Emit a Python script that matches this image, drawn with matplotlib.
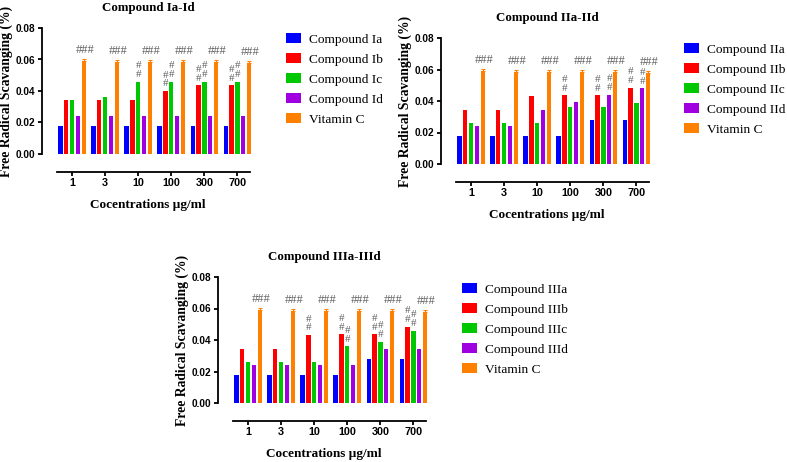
import numpy as np
import matplotlib
matplotlib.use('Agg')
import matplotlib.pyplot as plt
from matplotlib.patches import Patch

# concentrations (ug/ml) and series values
conc = ['1', '3', '10', '100', '300', '700']

ia = [0.018, 0.018, 0.018, 0.018, 0.018, 0.0175]
ib = [0.0345, 0.034, 0.034, 0.040, 0.0435, 0.0435]
ic = [0.0345, 0.036, 0.046, 0.046, 0.046, 0.046]
id_ = [0.024, 0.024, 0.024, 0.024, 0.024, 0.024]

iia = [0.018, 0.018, 0.018, 0.018, 0.028, 0.028]
iib = [0.0345, 0.034, 0.043, 0.0435, 0.0435, 0.0485]
iic = [0.026, 0.026, 0.026, 0.036, 0.036, 0.0385]
iid = [0.024, 0.024, 0.034, 0.0395, 0.044, 0.048]

iiia = [0.018, 0.018, 0.018, 0.018, 0.028, 0.028]
iiib = [0.0345, 0.034, 0.043, 0.0435, 0.0435, 0.0485]
iiic = [0.026, 0.026, 0.026, 0.036, 0.039, 0.046]
iiid = [0.024, 0.024, 0.024, 0.024, 0.034, 0.034]

vitc = [0.059, 0.0585, 0.0585, 0.0585, 0.0585, 0.058]
vitc_err = [0.0012, 0.0012, 0.0012, 0.0012, 0.0012, 0.0012]

# "#" marks: (group index, series index) pairs that get a stacked "##"
hash1 = [(2, 2), (3, 1), (3, 2), (4, 1), (4, 2), (5, 1), (5, 2)]
hash2 = [(3, 1), (4, 1), (4, 3), (5, 1), (5, 3)]
hash3 = [(2, 1), (3, 1), (3, 2), (4, 1), (4, 2), (5, 1), (5, 2)]

colors = ['#0000ff', '#ff0000', '#00c800', '#a000e0', '#ff8000']
serif = 'Liberation Serif'
sans = 'Liberation Sans'

W, H = 787, 462
fig = plt.figure(figsize=(W / 100, H / 100), dpi=100)


def panel(rect, series, names, title, hashes, legend_xy):
    ax = fig.add_axes(rect)
    x = np.arange(len(conc))
    pitch, width = 0.177, 0.13
    for i, vals in enumerate(series):
        pos = x + (i - 2) * pitch
        if i == 4:
            ax.bar(pos, vals, width, color=colors[i],
                   yerr=[[0] * len(vals), vitc_err], ecolor=colors[i],
                   error_kw=dict(capsize=1.5, elinewidth=0.8, capthick=0.8))
            for p, v in zip(pos, vals):
                ax.annotate('###', (p, v + 0.0012), xytext=(1, 2),
                            textcoords='offset points', ha='center', va='bottom',
                            fontsize=9, family=serif, color='#606060')
        else:
            ax.bar(pos, vals, width, color=colors[i])
    for g, s in hashes:
        ax.annotate('#\n#', (g + (s - 2) * pitch, series[s][g]), xytext=(0, 2),
                    textcoords='offset points', ha='center', va='bottom',
                    fontsize=8, family=serif, color='#606060', linespacing=0.95)

    # spine position first: moving a spine resets the tick objects
    ax.spines['top'].set_visible(False)
    ax.spines['right'].set_visible(False)
    ax.spines['left'].set_linewidth(1.3)
    ax.spines['bottom'].set_linewidth(1.3)
    ax.spines['bottom'].set_position(('outward', 13))
    ax.spines['bottom'].set_bounds(-0.47, 5.37)

    ax.set_ylim(0, 0.08)
    ax.set_xlim(-0.91, 5.5)
    ax.set_yticks([0, 0.02, 0.04, 0.06, 0.08])
    ax.set_yticklabels(['0.00', '0.02', '0.04', '0.06', '0.08'],
                       fontfamily=sans, fontweight='bold', fontsize=7.2)
    ax.set_xticks(x)
    ax.set_xticklabels(conc, fontfamily=sans, fontweight='bold', fontsize=7.8)
    ax.tick_params(axis='both', width=1.3, length=3, pad=2)
    ax.tick_params(axis='x', pad=1.5)

    ax.set_title(title, family=serif, fontweight='bold', fontsize=9.3, pad=12)
    ax.set_xlabel('Cocentrations µg/ml', family=serif, fontweight='bold',
                  fontsize=9.5, labelpad=8)
    ax.set_ylabel('Free Radical Scavanging (%)', family=serif, fontweight='bold',
                  fontsize=9.8, labelpad=2)

    handles = [Patch(facecolor=c) for c in colors]
    ax.legend(handles, names, loc='upper left',
              bbox_to_anchor=(legend_xy[0] / W, 1 - legend_xy[1] / H),
              bbox_transform=fig.transFigure, frameon=False,
              prop={'family': serif, 'size': 9.6},
              handlelength=1.1, handleheight=0.75, handletextpad=0.65,
              labelspacing=0.56, borderpad=0, borderaxespad=0)
    return ax


def rect(left_px, zero_px):
    return [left_px / W, 1 - zero_px / H, 212 / W, 126 / H]


panel(rect(42, 154), [ia, ib, ic, id_, vitc],
      ['Compound Ia', 'Compound Ib', 'Compound Ic', 'Compound Id', 'Vitamin C'],
      'Compound Ia-Id', hash1, (286, 33))
panel(rect(441, 164), [iia, iib, iic, iid, vitc],
      ['Compound IIa', 'Compound IIb', 'Compound IIc', 'Compound IId', 'Vitamin C'],
      'Compound IIa-IId', hash2, (684, 43))
panel(rect(218, 403), [iiia, iiib, iiic, iiid, vitc],
      ['Compound IIIa', 'Compound IIIb', 'Compound IIIc', 'Compound IIId', 'Vitamin C'],
      'Compound IIIa-IIId', hash3, (462, 283))

fig.savefig('out.png', dpi=100, facecolor='white')
